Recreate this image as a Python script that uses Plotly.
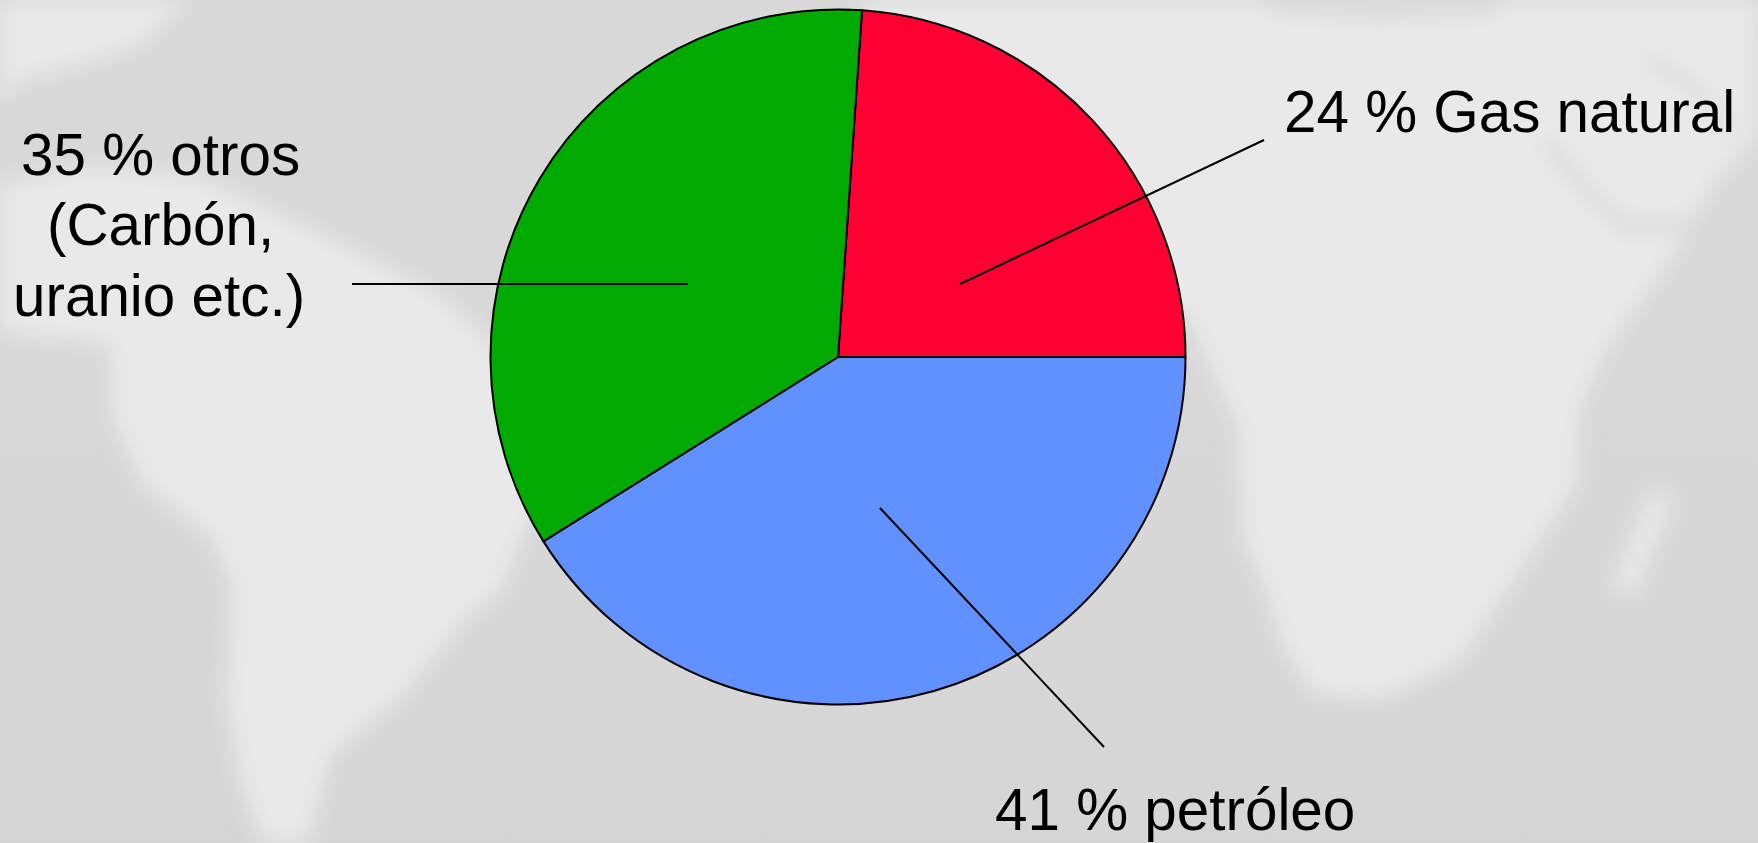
import base64
import plotly.graph_objects as go

W, H = 1758, 843

# Chart data
categories = ["Gas natural", "petróleo", "otros"]
values = [23.9, 41.1, 35]
colors = ["#FF0033", "#6191FF", "#00AA00"]

# Label texts: (line, centre x px, middle y px)
label_lines = ["24 % Gas natural", "41 % petróleo", "35 % otros", "(Carbón,", "uranio etc.)"]
label_x = [1509, 1175, 160, 160, 159]
label_y = [111, 809, 155, 225, 295]

# Leader lines in page pixels
leaders = [((960, 284), (1264, 140)), ((352, 284), (688, 284)), ((880, 508), (1104, 747))]

# Blurred world-map backdrop (decorative)
land_polys = [
    [(0,0),(187,0),(143,43),(100,59),(17,81),(0,108)],
    [(0,183),(90,167),(200,177),(317,231),(433,290),(483,333),(560,450),(500,591),(467,618),
     (400,699),(333,753),(307,843),(263,843),(240,780),(227,699),(233,591),(213,538),(143,484),
     (113,419),(110,344),(0,333)],
    [(860,0),(1758,0),(1758,134),(1712,188),(1673,258),(1607,349),(1580,409),(1576,484),(1518,575),
     (1460,661),(1383,699),(1313,694),(1282,645),(1266,591),(1243,538),(1239,430),(1185,312),(1000,300)],
]
dark_strokes = [
    ([(1266,2),(1380,10),(1499,4)], 18),
    ([(1545,140),(1584,188),(1623,226),(1693,226)], 12),
    ([(1646,59),(1693,86),(1731,134)], 9),
]
light_strokes = [([(1662,495),(1623,591)], 24)]


def pts(p):
    return " ".join(f"{x},{y}" for x, y in p)


svg = (f'<svg xmlns="http://www.w3.org/2000/svg" width="{W}" height="{H}" viewBox="0 0 {W} {H}">'
       '<defs><filter id="b" x="-10%" y="-10%" width="120%" height="120%"><feGaussianBlur stdDeviation="10"/></filter>'
       '<linearGradient id="g" x1="0" y1="0" x2="0" y2="1"><stop offset="0" stop-color="#D9D9D9"/>'
       '<stop offset="1" stop-color="#D6D6D6"/></linearGradient></defs>'
       f'<rect width="{W}" height="{H}" fill="url(#g)"/><g filter="url(#b)">')
for p in land_polys:
    svg += f'<polygon points="{pts(p)}" fill="#E9E9E9"/>'
for p, w in dark_strokes:
    svg += f'<polyline points="{pts(p)}" fill="none" stroke="#D9D9D9" stroke-width="{w}"/>'
for p, w in light_strokes:
    svg += f'<polyline points="{pts(p)}" fill="none" stroke="#E9E9E9" stroke-width="{w}"/>'
svg += '</g></svg>'
bg_uri = "data:image/svg+xml;base64," + base64.b64encode(svg.encode()).decode()

cx, cy, r = 838, 357, 347.5

fig = go.Figure(go.Pie(
    labels=categories, values=values, sort=False, direction="clockwise", rotation=3.96,
    marker=dict(colors=colors, line=dict(color="#000000", width=2)),
    textinfo="none", showlegend=False, hoverinfo="label+percent",
    domain=dict(x=[(cx - r) / W, (cx + r) / W], y=[1 - (cy + r) / H, 1 - (cy - r) / H]),
))

shapes = [dict(type="line", xref="paper", yref="paper", layer="above",
               x0=a[0] / W, y0=1 - a[1] / H, x1=b[0] / W, y1=1 - b[1] / H,
               line=dict(color="#000000", width=2)) for a, b in leaders]

annotations = [dict(text=t, x=x / W, y=1 - y / H, xref="paper", yref="paper",
                    xanchor="center", yanchor="middle", showarrow=False,
                    font=dict(family="Liberation Sans", size=58.4, color="#000000"))
               for t, x, y in zip(label_lines, label_x, label_y)]

fig.update_layout(
    width=W, height=H, margin=dict(l=0, r=0, t=0, b=0),
    paper_bgcolor="#D8D8D8", plot_bgcolor="#D8D8D8",
    shapes=shapes, annotations=annotations,
    images=[dict(source=bg_uri, xref="paper", yref="paper", x=0, y=1, sizex=1, sizey=1,
                 xanchor="left", yanchor="top", sizing="stretch", layer="below")],
)

fig.write_html("out.html", config={"displayModeBar": False},
               post_script="document.body.style.margin='0';document.documentElement.style.overflow='hidden';")
